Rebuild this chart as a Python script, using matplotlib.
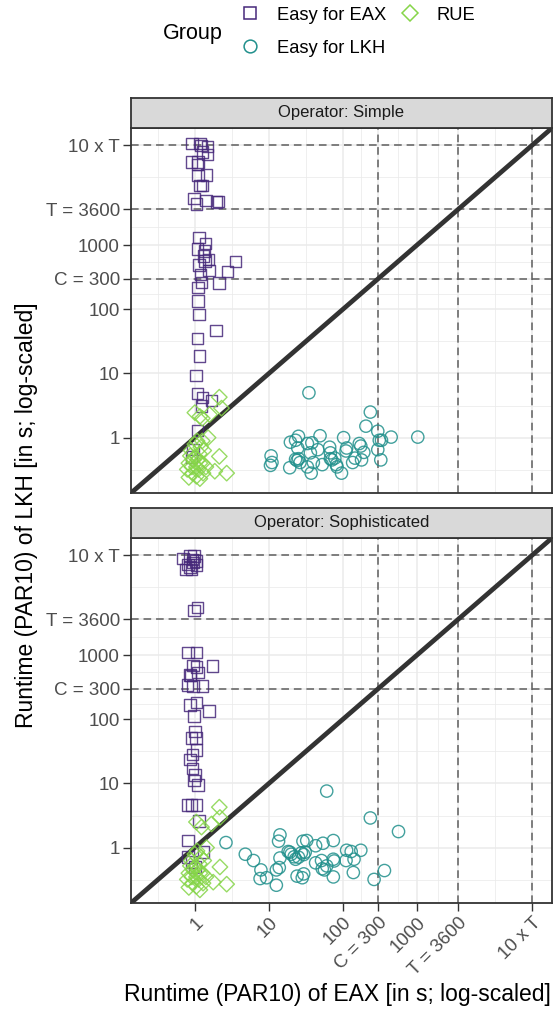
import matplotlib
matplotlib.use("Agg")
import matplotlib.pyplot as plt
from matplotlib.lines import Line2D
from matplotlib.ticker import NullFormatter
import numpy as np

plt.rcParams['font.family'] = ['Liberation Sans', 'DejaVu Sans']

# ---------------- data ----------------
break_vals = [1, 10, 100, 300, 1000, 3600, 36000]
break_labels = ["1", "10", "100", "C = 300", "1000", "T = 3600", "10 x T"]
ref_lines = [300, 3600, 36000]
groups = ["Easy for EAX", "Easy for LKH", "RUE"]
panels = ["Operator: Simple", "Operator: Sophisticated"]

simple_eax_x = [0.92, 1.17, 1.21, 1.49, 1.27, 1.49, 0.90, 1.11, 1.09, 1.11, 1.44, 1.17, 1.27, 0.98, 1.05,
                1.41, 1.97, 2.07, 1.14, 1.40, 1.09, 1.34, 1.31, 1.52, 1.37, 3.56, 1.13, 1.56, 2.74, 1.19,
                1.22, 2.12, 1.10, 1.11, 1.14, 1.93, 1.09, 1.16, 1.04, 1.08, 1.27, 1.68, 1.23, 1.08, 0.95, 0.90]
simple_eax_y = [38000, 38000, 35500, 33900, 28200, 25700, 19500, 19500, 17800, 12000, 12300, 8500, 8500, 5250, 4370,
                4900, 4680, 4790, 1320, 1050, 870, 810, 676, 590, 560, 550, 490, 400, 390, 347,
                263, 257, 219, 135, 83, 47, 35, 18.6, 9.3, 4.9, 4.2, 3.8, 3.1, 1.29, 0.65, 0.50]

simple_lkh_x = [34.7, 234, 204, 295, 447, 1023, 309, 331, 25.1, 19.5, 22.9, 33.1, 38.0, 49.0, 102, 166,
                174, 112, 295, 191, 45.7, 66.1, 67.6, 36.3, 24.5, 10.7, 11.0, 10.5, 19.1, 22.9, 24.0, 25.1,
                26.3, 33.1, 37.2, 39.8, 52.5, 67.6, 70.8, 77.6, 81.3, 83.2, 95.5, 135, 145, 178, 324, 110]
simple_lkh_y = [5.0, 2.5, 1.51, 1.26, 1.02, 1.02, 0.91, 0.91, 1.05, 0.85, 0.91, 0.81, 0.83, 1.07, 1.0, 0.81,
                0.74, 0.69, 0.65, 0.59, 0.65, 0.71, 0.58, 0.58, 0.69, 0.52, 0.41, 0.37, 0.34, 0.46, 0.44, 0.47,
                0.41, 0.35, 0.28, 0.41, 0.38, 0.47, 0.45, 0.48, 0.38, 0.35, 0.28, 0.41, 0.48, 0.45, 0.45, 0.62]

simple_rue_x = [2.14, 2.29, 1.00, 1.17, 1.58, 1.26, 1.51, 1.26, 2.14, 2.69, 1.86, 1.17, 0.89, 1.00, 0.83,
                1.05, 1.12, 0.79, 1.26, 1.32, 1.00, 0.93, 1.20, 1.10, 0.87, 1.41, 1.05, 0.91, 1.15, 1.29,
                0.83, 1.07, 0.95, 1.17]
simple_rue_y = [4.27, 2.88, 2.45, 2.14, 2.29, 2.00, 1.00, 0.89, 0.51, 0.28, 0.30, 0.23, 0.63, 0.50, 0.40,
                0.35, 0.32, 0.32, 0.40, 0.63, 0.79, 0.28, 0.71, 0.45, 0.52, 0.35, 0.25, 0.35, 0.56, 0.28,
                0.24, 0.89, 0.45, 0.40]

soph_eax_x = [0.695, 0.855, 0.97, 0.93, 1.03, 0.81, 0.76, 0.90, 1.05, 0.95, 0.855, 1.09, 0.98, 0.81, 1.05,
              0.95, 1.05, 1.72, 0.86, 1.11, 0.88, 0.79, 0.95, 1.27, 0.86, 1.05, 1.56, 0.98, 1.01, 0.90,
              1.03, 1.05, 0.93, 0.86, 0.93, 1.00, 1.11, 0.97, 0.79, 0.90, 1.05, 1.14, 0.81, 0.81, 1.30,
              0.90, 1.00]
soph_eax_y = [32000, 34700, 34700, 30900, 29000, 25700, 21400, 21400, 25100, 27500, 23400, 5500, 4900, 1100, 1100,
              690, 646, 676, 490, 537, 479, 339, 331, 331, 166, 182, 135, 112, 65, 51,
              51, 33, 28, 23.4, 17, 13.5, 9.5, 11.2, 4.6, 4.6, 4.6, 2.6, 1.29, 0.72, 0.85,
              0.60, 0.50]

soph_lkh_x = [60.3, 234, 562, 2.63, 14.1, 13.5, 28.8, 32.4, 42.7, 53.7, 74.1, 112, 129, 174, 4.8, 6.2,
              7.8, 7.6, 9.3, 12.6, 12.6, 13.8, 14.1, 18.2, 20.0, 21.9, 22.9, 25.1, 27.5, 29.5, 30.9, 24.0,
              28.2, 29.5, 42.7, 51.3, 52.5, 56.2, 60.3, 74.1, 75.9, 74.1, 110, 141, 138, 263, 363, 19.2]
soph_lkh_y = [7.6, 2.9, 1.78, 1.2, 1.58, 1.26, 1.26, 1.29, 1.07, 1.17, 1.29, 0.91, 0.87, 0.91, 0.79, 0.63,
              0.45, 0.33, 0.34, 0.26, 0.45, 0.49, 0.69, 0.87, 0.79, 0.72, 0.66, 0.71, 0.83, 0.78, 0.85, 0.36,
              0.34, 0.39, 0.58, 0.63, 0.47, 0.45, 0.52, 0.66, 0.62, 0.35, 0.63, 0.66, 0.41, 0.32, 0.44, 0.85]

soph_rue_x = [2.14, 2.18, 1.68, 1.05, 1.23, 1.44, 2.18, 2.69, 1.77, 1.17, 0.89, 1.00, 0.83, 1.05, 1.12,
              0.79, 1.26, 1.32, 1.00, 0.93, 1.20, 1.10, 0.87, 1.41, 1.05, 0.91, 1.15, 1.29, 0.83, 1.07,
              0.95, 1.17]
soph_rue_y = [4.27, 2.95, 2.34, 2.51, 2.09, 1.00, 0.50, 0.27, 0.29, 0.22, 0.63, 0.50, 0.40, 0.35, 0.32,
              0.32, 0.40, 0.63, 0.79, 0.28, 0.71, 0.45, 0.52, 0.35, 0.25, 0.35, 0.56, 0.28, 0.24, 0.89,
              0.45, 0.40]

# ---------------- style ----------------
W, H = 559, 1011
DPI = 100
col_eax = '#46287A'
col_lkh = '#21908C'
col_rue = '#86D549'
grid_col = '#EBEBEB'
border_col = '#333333'
tick_txt = '#4D4D4D'
lims = (10 ** -0.862, 10 ** 4.822)

major_log = np.log10(break_vals)
minor_log = [major_log[0] - 0.5] + [(a + b) / 2 for a, b in zip(major_log[:-1], major_log[1:])]
minor_vals = [10 ** v for v in minor_log]

fig = plt.figure(figsize=(W / DPI, H / DPI), dpi=DPI)

def fx(px):
    return px / W

def fy(py):
    return 1 - py / H

left_px, right_px = 131, 552
panel_specs = [(128, 493, 98), (538, 903, 508)]  # top, bottom, strip_top

data = [
    (simple_eax_x, simple_eax_y, simple_lkh_x, simple_lkh_y, simple_rue_x, simple_rue_y),
    (soph_eax_x, soph_eax_y, soph_lkh_x, soph_lkh_y, soph_rue_x, soph_rue_y),
]

for i, ((top, bot, stop), d, title) in enumerate(zip(panel_specs, data, panels)):
    ax = fig.add_axes([fx(left_px), fy(bot), (right_px - left_px) / W, (bot - top) / H])
    ax.set_xscale('log')
    ax.set_yscale('log')
    ax.set_xlim(lims)
    ax.set_ylim(lims)
    ax.set_axisbelow(True)
    for axis in (ax.xaxis, ax.yaxis):
        axis.set_ticks(break_vals)
        axis.set_ticklabels(break_labels)
        axis.set_ticks(minor_vals, minor=True)
        axis.set_minor_formatter(NullFormatter())
    ax.grid(which='major', color=grid_col, lw=1.1)
    ax.grid(which='minor', color=grid_col, lw=0.55)
    ax.tick_params(which='minor', length=0)
    ax.tick_params(which='major', length=6, width=1.0, color=border_col,
                   labelcolor=tick_txt, labelsize=13.5, pad=2)
    for sp in ax.spines.values():
        sp.set_color(border_col)
        sp.set_linewidth(1.3)

    for v in ref_lines:
        ax.axhline(v, color='#5F5F5F', lw=1.1, dashes=(5, 3.2), zorder=1.5)
        ax.axvline(v, color='#5F5F5F', lw=1.1, dashes=(5, 3.2), zorder=1.5)
    ax.axline((1, 1), (10, 10), color=border_col, lw=3.4, zorder=2)

    ex, ey, lx, ly, rx, ry = d
    ax.scatter(ex, ey, marker='s', s=68, facecolors='none', edgecolors=col_eax,
               linewidths=1.0, alpha=0.85, zorder=3)
    ax.scatter(lx, ly, marker='o', s=78, facecolors='none', edgecolors=col_lkh,
               linewidths=1.0, alpha=0.85, zorder=3)
    ax.scatter(rx, ry, marker='D', s=62, facecolors='none', edgecolors=col_rue,
               linewidths=1.0, alpha=0.85, zorder=3)

    if i == 0:
        ax.tick_params(axis='x', bottom=False, labelbottom=False)
    else:
        for lab in ax.get_xticklabels():
            lab.set_rotation(45)
            lab.set_ha('right')
            lab.set_va('top')
            lab.set_rotation_mode('anchor')

    # strip
    sax = fig.add_axes([fx(left_px), fy(top), (right_px - left_px) / W, (top - stop) / H])
    sax.set_facecolor('#D9D9D9')
    sax.set_xticks([])
    sax.set_yticks([])
    for sp in sax.spines.values():
        sp.set_color(border_col)
        sp.set_linewidth(1.3)
    sax.text(0.5, 0.5, title, ha='center', va='center', fontsize=12, color='#1A1A1A',
             transform=sax.transAxes)

# axis titles
fig.text(fx(337), fy(994), "Runtime (PAR10) of EAX [in s; log-scaled]", ha='center', va='center',
         fontsize=16.5, color='black')
fig.text(fx(27), fy(515), "Runtime (PAR10) of LKH [in s; log-scaled]", ha='center', va='center',
         rotation=90, fontsize=16.5, color='black')

# legend
fig.text(fx(192.5), fy(33), "Group", ha='center', va='center', fontsize=15.5, color='black')
handles = [
    Line2D([], [], ls='none', marker='s', ms=9.0, mfc='none', mec=col_eax, mew=1.1),
    Line2D([], [], ls='none', marker='o', ms=9.2, mfc='none', mec=col_lkh, mew=1.1),
    Line2D([], [], ls='none', marker='D', ms=8.2, mfc='none', mec=col_rue, mew=1.1),
]
fig.legend(handles, groups, ncol=2, loc='upper left', bbox_to_anchor=(fx(240.8), fy(6.8)),
           frameon=False, fontsize=13.2, handlelength=1.0, handletextpad=0.95,
           columnspacing=0.8, labelspacing=0.86, borderpad=0, borderaxespad=0)

fig.savefig('out.png', dpi=DPI)
